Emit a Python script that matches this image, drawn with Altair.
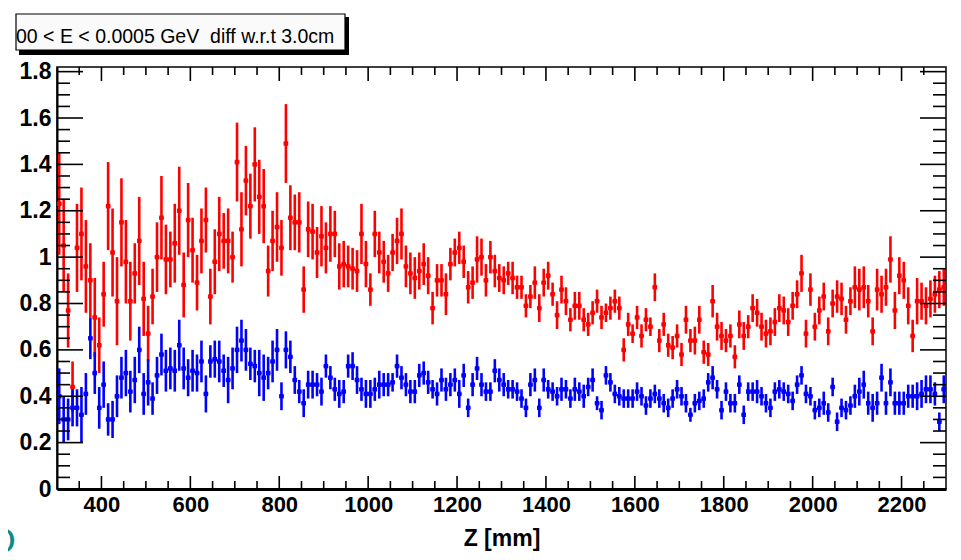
import altair as alt
import pandas as pd

# ---------------- data ----------------
z_lo = 300          # first bin lower edge [mm]
bin_w = 10          # bin width [mm]

red_val = [1.23, 1.05, 0.77, 0.44, 1.04, 1.10, 0.96, 0.90, 0.74, 0.62,
           0.84, 1.22, 1.02, 0.81, 1.15, 0.98, 0.81, 0.93, 1.07, 0.82,
           0.67, 0.83, 1.00, 1.17, 0.99, 0.99, 1.06, 1.20, 0.88, 1.16,
           1.03, 0.89, 1.07, 1.16, 0.83, 0.98, 1.10, 1.07, 1.07, 1.00,
           1.41, 1.12, 1.33, 1.22, 1.40, 1.26, 1.22, 0.94, 1.07, 1.13,
           1.04, 1.49, 1.17, 1.15, 1.15, 0.86, 1.12, 1.11, 1.02, 1.09,
           1.04, 1.10, 1.10, 0.96, 0.97, 0.96, 0.95, 0.94, 1.10, 0.97,
           0.86, 1.10, 1.02, 0.98, 0.93, 1.02, 1.07, 1.10, 0.96, 0.93,
           0.91, 0.94, 0.97, 0.92, 0.78, 0.90, 0.90, 0.84, 0.97, 1.02,
           1.04, 0.98, 0.87, 0.89, 0.99, 1.00, 0.90, 1.00, 0.94, 0.91,
           0.90, 0.93, 0.91, 0.87, 0.87, 0.79, 0.83, 0.89, 0.78, 0.89,
           0.92, 0.84, 0.75, 0.86, 0.81, 0.73, 0.79, 0.79, 0.73, 0.71,
           0.76, 0.81, 0.74, 0.76, 0.78, 0.81, 0.78, 0.60, 0.71, 0.67,
           0.74, 0.66, 0.73, 0.70, 0.87, 0.64, 0.71, 0.62, 0.61, 0.66,
           0.58, 0.73, 0.64, 0.64, 0.73, 0.59, 0.58, 0.81, 0.70, 0.66,
           0.64, 0.66, 0.57, 0.71, 0.66, 0.70, 0.78, 0.76, 0.70, 0.67,
           0.68, 0.72, 0.78, 0.77, 0.72, 0.79, 0.84, 0.93, 0.67, 0.86,
           0.70, 0.77, 0.83, 0.68, 0.80, 0.83, 0.82, 0.73, 0.81, 0.87,
           0.86, 0.87, 0.81, 0.68, 0.86, 0.84, 0.87, 0.99, 0.77, 0.92,
           0.90, 0.79, 0.66, 0.81, 0.81, 0.79, 0.82, 0.84, 0.86, 0.87]

red_err = [0.22, 0.20, 0.16, 0.11, 0.19, 0.20, 0.20, 0.16, 0.17, 0.12,
           0.14, 0.19, 0.19, 0.19, 0.19, 0.18, 0.17, 0.13, 0.19, 0.16,
           0.12, 0.12, 0.15, 0.18, 0.15, 0.12, 0.17, 0.19, 0.14, 0.16,
           0.14, 0.12, 0.14, 0.14, 0.12, 0.14, 0.16, 0.12, 0.14, 0.11,
           0.17, 0.16, 0.15, 0.14, 0.16, 0.16, 0.16, 0.11, 0.13, 0.15,
           0.12, 0.17, 0.14, 0.12, 0.13, 0.10, 0.12, 0.12, 0.11, 0.13,
           0.11, 0.12, 0.10, 0.10, 0.10, 0.09, 0.09, 0.09, 0.13, 0.10,
           0.07, 0.10, 0.09, 0.09, 0.08, 0.08, 0.10, 0.11, 0.09, 0.09,
           0.09, 0.08, 0.09, 0.08, 0.07, 0.07, 0.07, 0.09, 0.07, 0.06,
           0.07, 0.07, 0.07, 0.07, 0.10, 0.08, 0.07, 0.07, 0.07, 0.06,
           0.06, 0.05, 0.07, 0.05, 0.05, 0.05, 0.05, 0.07, 0.06, 0.06,
           0.06, 0.05, 0.06, 0.06, 0.06, 0.05, 0.06, 0.06, 0.05, 0.05,
           0.05, 0.05, 0.05, 0.04, 0.05, 0.05, 0.05, 0.05, 0.05, 0.04,
           0.05, 0.05, 0.05, 0.04, 0.06, 0.05, 0.05, 0.05, 0.05, 0.05,
           0.05, 0.06, 0.05, 0.06, 0.06, 0.05, 0.05, 0.07, 0.06, 0.06,
           0.05, 0.05, 0.05, 0.06, 0.06, 0.05, 0.06, 0.06, 0.06, 0.06,
           0.06, 0.06, 0.06, 0.06, 0.06, 0.06, 0.06, 0.08, 0.06, 0.07,
           0.06, 0.06, 0.06, 0.06, 0.06, 0.07, 0.07, 0.06, 0.06, 0.09,
           0.09, 0.09, 0.07, 0.06, 0.09, 0.08, 0.08, 0.10, 0.08, 0.08,
           0.08, 0.08, 0.07, 0.10, 0.08, 0.08, 0.08, 0.08, 0.08, 0.08]

blue_val = [0.40, 0.30, 0.30, 0.35, 0.35, 0.32, 0.41, 0.65, 0.50, 0.35,
            0.45, 0.30, 0.30, 0.40, 0.48, 0.50, 0.42, 0.47, 0.60, 0.41,
            0.46, 0.39, 0.49, 0.58, 0.51, 0.52, 0.51, 0.62, 0.52, 0.48,
            0.51, 0.50, 0.55, 0.41, 0.55, 0.56, 0.55, 0.51, 0.47, 0.52,
            0.60, 0.64, 0.60, 0.54, 0.53, 0.50, 0.48, 0.50, 0.55, 0.60,
            0.40, 0.60, 0.57, 0.47, 0.42, 0.37, 0.45, 0.45, 0.45, 0.42,
            0.53, 0.48, 0.43, 0.41, 0.42, 0.53, 0.53, 0.47, 0.43, 0.41,
            0.41, 0.43, 0.45, 0.45, 0.45, 0.46, 0.53, 0.48, 0.45, 0.42,
            0.42, 0.49, 0.50, 0.46, 0.43, 0.41, 0.47, 0.43, 0.45, 0.47,
            0.41, 0.49, 0.35, 0.45, 0.52, 0.45, 0.42, 0.42, 0.51, 0.47,
            0.45, 0.43, 0.43, 0.42, 0.39, 0.35, 0.45, 0.47, 0.35, 0.47,
            0.43, 0.42, 0.40, 0.43, 0.43, 0.39, 0.43, 0.42, 0.40, 0.44,
            0.47, 0.37, 0.34, 0.49, 0.46, 0.41, 0.40, 0.39, 0.39, 0.39,
            0.42, 0.40, 0.36, 0.39, 0.41, 0.39, 0.37, 0.35, 0.39, 0.43,
            0.40, 0.37, 0.32, 0.37, 0.38, 0.39, 0.46, 0.48, 0.43, 0.34,
            0.42, 0.37, 0.37, 0.45, 0.32, 0.42, 0.42, 0.42, 0.40, 0.37,
            0.35, 0.42, 0.43, 0.42, 0.41, 0.38, 0.45, 0.49, 0.41, 0.40,
            0.34, 0.35, 0.37, 0.33, 0.44, 0.29, 0.35, 0.34, 0.36, 0.40,
            0.42, 0.45, 0.37, 0.35, 0.37, 0.48, 0.37, 0.46, 0.37, 0.37,
            0.37, 0.40, 0.40, 0.40, 0.41, 0.43, 0.43, 0.41, 0.29, 0.43]

blue_err = [0.12, 0.10, 0.09, 0.08, 0.08, 0.12, 0.09, 0.09, 0.09, 0.09,
            0.10, 0.07, 0.08, 0.09, 0.09, 0.10, 0.09, 0.10, 0.10, 0.09,
            0.10, 0.07, 0.08, 0.09, 0.09, 0.09, 0.09, 0.11, 0.09, 0.08,
            0.09, 0.08, 0.09, 0.08, 0.07, 0.08, 0.09, 0.07, 0.10, 0.09,
            0.10, 0.09, 0.09, 0.07, 0.07, 0.10, 0.10, 0.07, 0.09, 0.09,
            0.06, 0.08, 0.07, 0.06, 0.05, 0.06, 0.06, 0.06, 0.05, 0.06,
            0.05, 0.05, 0.05, 0.06, 0.05, 0.05, 0.06, 0.06, 0.05, 0.06,
            0.06, 0.05, 0.06, 0.05, 0.05, 0.04, 0.05, 0.05, 0.05, 0.05,
            0.05, 0.05, 0.05, 0.05, 0.04, 0.05, 0.05, 0.05, 0.05, 0.05,
            0.06, 0.05, 0.04, 0.05, 0.05, 0.05, 0.04, 0.04, 0.05, 0.05,
            0.05, 0.04, 0.04, 0.04, 0.04, 0.04, 0.05, 0.05, 0.04, 0.05,
            0.04, 0.04, 0.04, 0.05, 0.04, 0.04, 0.05, 0.04, 0.05, 0.04,
            0.05, 0.03, 0.04, 0.04, 0.04, 0.04, 0.04, 0.04, 0.04, 0.04,
            0.04, 0.04, 0.04, 0.04, 0.04, 0.04, 0.04, 0.04, 0.04, 0.04,
            0.04, 0.04, 0.03, 0.04, 0.04, 0.04, 0.04, 0.05, 0.04, 0.04,
            0.04, 0.04, 0.04, 0.04, 0.04, 0.04, 0.04, 0.05, 0.04, 0.04,
            0.04, 0.04, 0.04, 0.04, 0.04, 0.04, 0.04, 0.04, 0.04, 0.04,
            0.04, 0.04, 0.05, 0.04, 0.04, 0.04, 0.04, 0.04, 0.04, 0.05,
            0.06, 0.06, 0.05, 0.06, 0.05, 0.06, 0.05, 0.06, 0.05, 0.05,
            0.05, 0.05, 0.05, 0.06, 0.06, 0.06, 0.06, 0.05, 0.04, 0.06]

x_major = [400, 600, 800, 1000, 1200, 1400, 1600, 1800, 2000, 2200]
x_minor = [350, 450, 500, 550, 650, 700, 750, 850, 900, 950, 1050, 1100, 1150,
           1250, 1300, 1350, 1450, 1500, 1550, 1650, 1700, 1750, 1850, 1900,
           1950, 2050, 2100, 2150, 2250]
y_major = [0, 0.2, 0.4, 0.6, 0.8, 1, 1.2, 1.4, 1.6, 1.8]
y_minor = [0.05, 0.1, 0.15, 0.25, 0.3, 0.35, 0.45, 0.5, 0.55, 0.65, 0.7, 0.75,
           0.85, 0.9, 0.95, 1.05, 1.1, 1.15, 1.25, 1.3, 1.35, 1.45, 1.5, 1.55,
           1.65, 1.7, 1.75]

title_text = "00 < E < 0.0005 GeV \u00a0diff w.r.t 3.0cm"
x_title = "Z [mm]"

# ---------------- build tables ----------------
W, H = 889, 422
FONT = "Liberation Sans"


def series(vals, errs, name):
    d = pd.DataFrame({"v": vals, "e": errs})
    d["z"] = [z_lo + bin_w / 2 + bin_w * i for i in range(len(vals))]
    d["zl"] = d["z"] - bin_w / 2
    d["zr"] = d["z"] + bin_w / 2
    d["lo"] = d["v"] - d["e"]
    d["hi"] = d["v"] + d["e"]
    d["s"] = name
    return d


df = pd.concat([series(red_val, red_err, "red"), series(blue_val, blue_err, "blue")],
               ignore_index=True)

xs = alt.Scale(domain=[300, 2300], nice=False, zero=False)
ys = alt.Scale(domain=[0, 1.82], nice=False, zero=False)
cs = alt.Scale(domain=["red", "blue"], range=["#ff0000", "#0000ff"])

x_axis = alt.Axis(values=x_major, format="d", ticks=False, tickSize=0, grid=False,
                  domain=True, domainWidth=3, domainColor="black",
                  labelFont=FONT, labelFontWeight="bold", labelFontSize=22,
                  labelColor="black", labelPadding=5, labelFlush=False,
                  title=x_title, titleFont=FONT, titleFontWeight="bold",
                  titleFontSize=23, titleColor="black", titlePadding=12)
y_axis = alt.Axis(values=y_major, format="~g", ticks=False, tickSize=0, grid=False,
                  domain=True, domainWidth=2, domainColor="black",
                  labelFont=FONT, labelFontWeight="bold", labelFontSize=23,
                  labelColor="black", labelPadding=6, labelFlush=False, title=None)

err_v = alt.Chart(df).mark_rule(strokeWidth=2.6, clip=True).encode(
    x=alt.X("z:Q", scale=xs, axis=x_axis),
    y=alt.Y("lo:Q", scale=ys, axis=y_axis),
    y2="hi:Q",
    color=alt.Color("s:N", scale=cs, legend=None),
)
err_h = alt.Chart(df).mark_rule(strokeWidth=2.4, clip=True).encode(
    x=alt.X("zl:Q", scale=xs, axis=x_axis),
    x2="zr:Q",
    y=alt.Y("v:Q", scale=ys, axis=y_axis),
    color=alt.Color("s:N", scale=cs, legend=None),
)
pts = alt.Chart(df).mark_square(size=20, opacity=1, clip=True).encode(
    x=alt.X("z:Q", scale=xs, axis=x_axis),
    y=alt.Y("v:Q", scale=ys, axis=y_axis),
    color=alt.Color("s:N", scale=cs, legend=None),
)

# ROOT style inside ticks on all four sides
ymaj = pd.DataFrame({"v": y_major})
ymin = pd.DataFrame({"v": y_minor})
xmaj = pd.DataFrame({"z": x_major})
xmin = pd.DataFrame({"z": x_minor})


def yticks(d, x0, x1):
    return alt.Chart(d).mark_rule(color="black", strokeWidth=1.6).encode(
        y=alt.Y("v:Q", scale=ys, axis=y_axis), x=alt.value(x0), x2=alt.value(x1))


def xticks(d, y0, y1):
    return alt.Chart(d).mark_rule(color="black", strokeWidth=1.6).encode(
        x=alt.X("z:Q", scale=xs, axis=x_axis), y=alt.value(y0), y2=alt.value(y1))


ticks = [
    yticks(ymaj, 0, 26), yticks(ymin, 0, 13),
    yticks(ymaj, W, W - 26), yticks(ymin, W, W - 13),
    xticks(xmaj, H, H - 13), xticks(xmin, H, H - 8),
    xticks(xmaj, 0, 14), xticks(xmin, 0, 8),
]

one = pd.DataFrame({"a": [0]})
shadow = alt.Chart(one).mark_rect(color="black").encode(
    x=alt.value(-38), x2=alt.value(292), y=alt.value(-50), y2=alt.value(-12))
box = alt.Chart(one).mark_rect(fill="#fafafa", stroke="black", strokeWidth=1.2).encode(
    x=alt.value(-41), x2=alt.value(288), y=alt.value(-53), y2=alt.value(-17))
label = alt.Chart(one).mark_text(align="left", baseline="alphabetic", font=FONT,
                                 fontSize=19.5, color="black",
                                 text=title_text).encode(
    x=alt.value(-41), y=alt.value(-24))
deco = alt.Chart(one).mark_text(align="right", baseline="alphabetic",
                                font="DejaVu Serif", fontSize=34, color="#0e8a8a",
                                text="D").encode(
    x=alt.value(-41), y=alt.value(486))

chart = alt.layer(
    err_v, err_h, pts, *ticks, shadow, box, label, deco
).resolve_scale(x="shared", y="shared").properties(
    width=W, height=H,
    autosize=alt.AutoSizeParams(type="none"),
    padding={"left": 49, "top": 59, "right": 7, "bottom": 63},
    background="white",
).configure_view(stroke="black", strokeWidth=1.5)

chart.save("out.html", embed_options={"renderer": "svg", "actions": False})
